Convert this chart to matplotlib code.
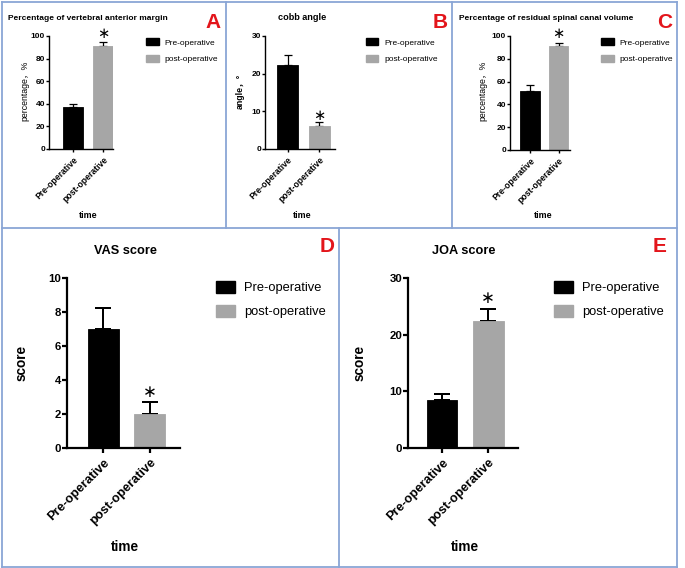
import matplotlib
matplotlib.use('Agg')
import matplotlib.pyplot as plt
from matplotlib.lines import Line2D
from matplotlib.patches import Patch

W, H = 685, 568

# ---------------- data ----------------
groups = ['Pre-operative', 'post-operative']
vert_mean = [37.0, 91.0]
vert_sd = [3.0, 4.0]
cobb_mean = [22.2, 6.0]
cobb_sd = [2.7, 1.3]
canal_mean = [52.0, 91.5]
canal_sd = [5.0, 2.5]
vas_mean = [7.0, 2.0]
vas_sd = [1.25, 0.7]
joa_mean = [8.4, 22.4]
joa_sd = [1.1, 2.1]
star_y = {'A': 102.5, 'B': 9.0, 'C': 102.5, 'D': 3.3, 'E': 26.5}

titles = {'A': 'Percentage of vertebral anterior margin', 'B': 'cobb angle',
          'C': 'Percentage of residual spinal canal volume', 'D': 'VAS score', 'E': 'JOA score'}
ylabels = {'A': 'percentage\uff0c%', 'B': 'angle\uff0c\u00b0', 'C': 'percentage\uff0c%',
           'D': 'score', 'E': 'score'}
yticks = {'A': [0, 20, 40, 60, 80, 100], 'B': [0, 10, 20, 30], 'C': [0, 20, 40, 60, 80, 100],
          'D': [0, 2, 4, 6, 8, 10], 'E': [0, 10, 20, 30]}
ymax = {'A': 100, 'B': 30, 'C': 100, 'D': 10, 'E': 30}
means = {'A': vert_mean, 'B': cobb_mean, 'C': canal_mean, 'D': vas_mean, 'E': joa_mean}
sds = {'A': vert_sd, 'B': cobb_sd, 'C': canal_sd, 'D': vas_sd, 'E': joa_sd}

# ---------------- layout (pixels) ----------------
layout = {
    'A': dict(ax=(49, 36, 113, 149), xlim=(-0.8, 1.33), small=True, tsize=6.0,
              title=(8, 18, 'left'), letter=(213, 22), leg=(146, 38), time=(88, 215), ylab=(25, 91),
              ylab_bold=False),
    'B': dict(ax=(265, 36, 335, 149), xlim=(-0.72, 1.5), small=True, tsize=6.6,
              title=(302, 18, 'center'), letter=(440, 22), leg=(366, 38), time=(302, 215), ylab=(240, 91),
              ylab_bold=True),
    'C': dict(ax=(510, 36, 570, 150), xlim=(-0.70, 1.40), small=True, tsize=6.0,
              title=(459, 18, 'left'), letter=(665, 22), leg=(601, 38), time=(543, 215), ylab=(483, 91),
              ylab_bold=False),
    'D': dict(ax=(67, 278, 180, 448), xlim=(-0.79, 1.66), small=False, tsize=9.2,
              title=(125, 251, 'center'), letter=(327, 247), leg=(216, 281), time=(125, 547), ylab=(22, 363),
              ylab_bold=True),
    'E': dict(ax=(408, 278, 518, 448), xlim=(-0.74, 1.65), small=False, tsize=9.2,
              title=(464, 251, 'center'), letter=(660, 247), leg=(554, 281), time=(465, 547), ylab=(360, 363),
              ylab_bold=True),
}

FONT = 'Liberation Sans'
plt.rcParams['font.family'] = [FONT, 'Noto Sans CJK SC', 'DejaVu Sans']

fig = plt.figure(figsize=(W / 100, H / 100), dpi=100)
fig.patch.set_facecolor('white')

def fx(x):
    return x / W

def fy(y):
    return 1 - y / H

bar_colors = ['#000000', '#a6a6a6']
edge_colors = ['#000000', '#a6a6a6']

for key in ['A', 'B', 'C', 'D', 'E']:
    L = layout[key]
    small = L['small']
    s = dict(ytick=6.0, xtick=6.2, legend=6.0, time=6.4, ylab=6.3, lw=1.0,
             ticklen=2.2, cap=3.0, star=10.5, lsp=0.95, ypad=0.6) if small else \
        dict(ytick=8.2, xtick=9.2, legend=9.3, time=9.8, ylab=9.8, lw=1.6,
             ticklen=3.6, cap=6.0, star=12, lsp=0.85, ypad=0.6)
    x0, yt, x1, yb = L['ax']
    ax = fig.add_axes([fx(x0), fy(yb), (x1 - x0) / W, (yb - yt) / H])
    xs = list(range(len(groups)))
    m = means[key]
    e = sds[key]
    ax.bar(xs, m, width=0.67, color=bar_colors, edgecolor=edge_colors, linewidth=0.6, zorder=2)
    for i in xs:
        ax.errorbar([xs[i]], [m[i]], yerr=[[0], [e[i]]], fmt='none', ecolor='black',
                    elinewidth=s['lw'] * 0.9, capsize=s['cap'], capthick=s['lw'] * 0.9, zorder=1)
    ax.set_xlim(*L['xlim'])
    ax.set_ylim(0, ymax[key])
    ax.set_yticks(yticks[key])
    ax.set_yticklabels([str(v) for v in yticks[key]], fontsize=s['ytick'], fontweight='bold',
                       family=FONT)
    ax.set_xticks(xs)
    ax.set_xticklabels(groups, rotation=45, ha='right', va='top', rotation_mode='anchor',
                       fontsize=s['xtick'], fontweight='bold', family=FONT)
    for sp in ['top', 'right']:
        ax.spines[sp].set_visible(False)
    for sp in ['left', 'bottom']:
        ax.spines[sp].set_linewidth(s['lw'])
    ax.tick_params(axis='both', direction='out', length=s['ticklen'], width=s['lw'])
    ax.tick_params(axis='y', pad=s['ypad'])
    ax.tick_params(axis='x', pad=2.5)
    ax.patch.set_alpha(0)
    ax.text(1, star_y[key], '\u2217', ha='center', va='center', fontsize=s['star'],
            family='DejaVu Sans', clip_on=False)

    tx, ty, tha = L['title']
    fig.text(fx(tx), fy(ty), titles[key], ha=tha, va='center', fontsize=L['tsize'],
             fontweight='bold', family=FONT)
    lx, ly = L['letter']
    fig.text(fx(lx), fy(ly), key, ha='center', va='center', fontsize=15, fontweight='bold',
             color='#e3151b', family=FONT)
    tx, ty = L['time']
    fig.text(fx(tx), fy(ty), 'time', ha='center', va='center', fontsize=s['time'],
             fontweight='bold', family=FONT)
    yx, yy = L['ylab']
    fig.text(fx(yx), fy(yy), ylabels[key], ha='center', va='center', rotation=90,
             fontsize=s['ylab'], fontweight='bold' if L['ylab_bold'] else 'normal',
             family=[FONT, 'Noto Sans CJK SC'])
    handles = [Patch(facecolor=bar_colors[i], edgecolor=edge_colors[i]) for i in range(len(groups))]
    gx, gy = L['leg']
    fig.legend(handles, groups, loc='upper left', bbox_to_anchor=(fx(gx), fy(gy)),
               frameon=False, handlelength=1.5, handleheight=1.0,
               handletextpad=0.7, labelspacing=s['lsp'], borderpad=0, borderaxespad=0,
               prop={'family': FONT, 'size': s['legend']})

# ---------------- panel borders ----------------
bc = '#8aa6d6'
blw = 1.3
segs = [
    ((1.5, 1.5), (2, 567)),
    ((1.5, 677), (2, 2)),
    ((677, 677), (2, 567)),
    ((1.5, 677), (567, 567)),
    ((1.5, 677), (228, 228)),
    ((226, 226), (2, 228)),
    ((452, 452), (2, 228)),
    ((339, 339), (228, 567)),
]
for xsg, ysg in segs:
    fig.add_artist(Line2D([fx(v) for v in xsg], [fy(v) for v in ysg], color=bc, lw=blw,
                          transform=fig.transFigure))

fig.savefig('out.png', dpi=100, facecolor='white')
